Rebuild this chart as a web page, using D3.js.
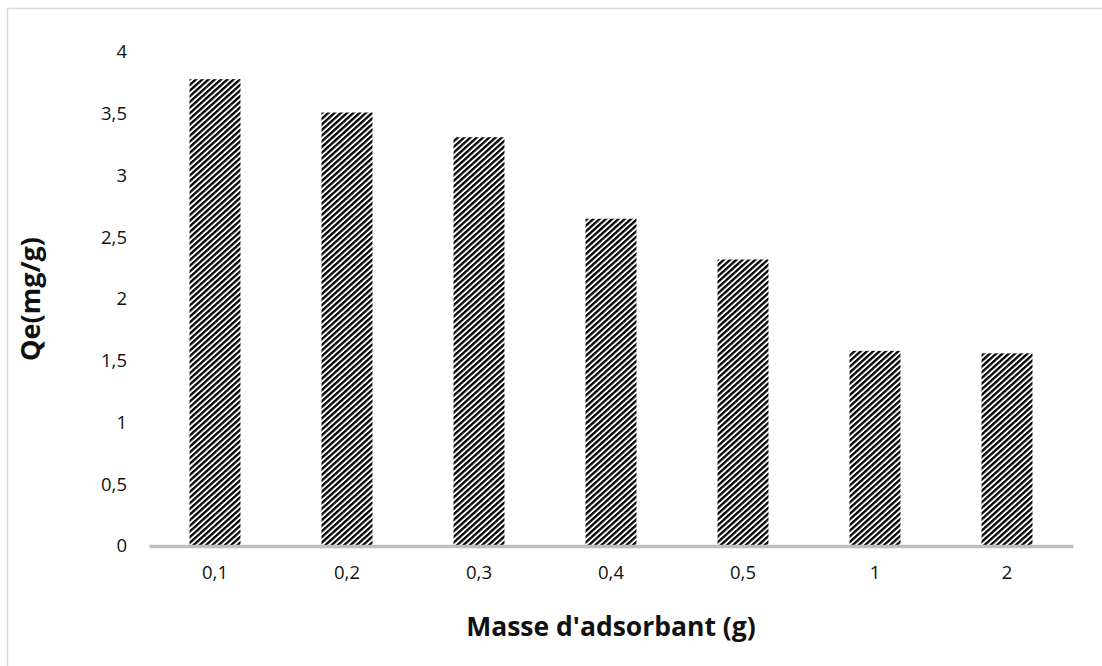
<!DOCTYPE html>
<html>
<head>
<meta charset="utf-8">
<script src="https://cdn.jsdelivr.net/npm/d3@7"></script>
<style>
  html, body { margin: 0; padding: 0; background: #fff; }
  svg { display: block; }
</style>
</head>
<body>
<svg id="chart" width="1102" height="666"></svg>
<script>
// Adsorbent mass (g) and equilibrium uptake Qe (mg/g)
const categories = ["0,1", "0,2", "0,3", "0,4", "0,5", "1", "2"];
const qeValues = [3.78, 3.51, 3.31, 2.65, 2.32, 1.58, 1.56];
const yTicks = [0, 0.5, 1, 1.5, 2, 2.5, 3, 3.5, 4];
const xTitle = "Masse d'adsorbant (g)";
const yTitle = "Qe(mg/g)";

const svg = d3.select("#chart");
const W = 1102, H = 666;
const margin = { left: 149, right: W - 1073, top: 52, bottom: H - 546 };

const fmt = d => String(d).replace(".", ",");

// chart area outline (only top and left edges fall inside the view)
svg.append("rect")
  .attr("x", 7.5).attr("y", 8.5)
  .attr("width", W + 20).attr("height", H + 20)
  .attr("fill", "#fff")
  .attr("stroke", "#d9d9d9").attr("stroke-width", 1.5);

// diagonal hatch fill for the bars
const defs = svg.append("defs");
const pat = defs.append("pattern")
  .attr("id", "hatch")
  .attr("patternUnits", "userSpaceOnUse")
  .attr("width", 8).attr("height", 4.2)
  .attr("patternTransform", "rotate(-42)");
pat.append("rect").attr("width", 8).attr("height", 4.2).attr("fill", "#fff");
pat.append("rect").attr("y", 0).attr("width", 8).attr("height", 2.3).attr("fill", "#000");

const x = d3.scaleBand()
  .domain(categories)
  .range([margin.left, W - margin.right])
  .paddingInner(0.614)
  .paddingOuter(0.307);

const y = d3.scaleLinear()
  .domain([0, 4])
  .range([H - margin.bottom, margin.top]);

// bars
svg.append("g")
  .selectAll("rect")
  .data(qeValues)
  .join("rect")
  .attr("x", (d, i) => x(categories[i]))
  .attr("y", d => y(d))
  .attr("width", x.bandwidth())
  .attr("height", d => y(0) - y(d))
  .attr("fill", "url(#hatch)");

// y axis labels (no axis line, no ticks)
const yAxis = d3.axisLeft(y).tickValues(yTicks).tickFormat(fmt).tickSize(0).tickPadding(0);
const gy = svg.append("g")
  .attr("transform", `translate(127,0)`)
  .call(yAxis);
gy.select(".domain").remove();
gy.selectAll("text")
  .attr("font-family", "'Open Sans', sans-serif")
  .attr("font-size", 18.5)
  .attr("fill", "#111");

// x axis: grey baseline and category labels
const xAxis = d3.axisBottom(x).tickSize(0).tickPadding(20);
const gx = svg.append("g")
  .attr("transform", `translate(0,${y(0)})`)
  .call(xAxis);
gx.select(".domain")
  .attr("stroke", "#bfbfbf")
  .attr("stroke-width", 3.5);
gx.selectAll("text")
  .attr("font-family", "'Open Sans', sans-serif")
  .attr("font-size", 18.5)
  .attr("fill", "#111");

// axis titles
svg.append("text")
  .attr("x", (margin.left + W - margin.right) / 2)
  .attr("y", 636)
  .attr("text-anchor", "middle")
  .attr("font-family", "'Open Sans', sans-serif")
  .attr("font-weight", "bold")
  .attr("font-size", 26.5)
  .attr("fill", "#111")
  .text(xTitle);

svg.append("text")
  .attr("transform", `translate(40,${(margin.top + H - margin.bottom) / 2}) rotate(-90)`)
  .attr("text-anchor", "middle")
  .attr("font-family", "'Open Sans', sans-serif")
  .attr("font-weight", "bold")
  .attr("font-size", 27)
  .attr("fill", "#111")
  .text(yTitle);
</script>
</body>
</html>
